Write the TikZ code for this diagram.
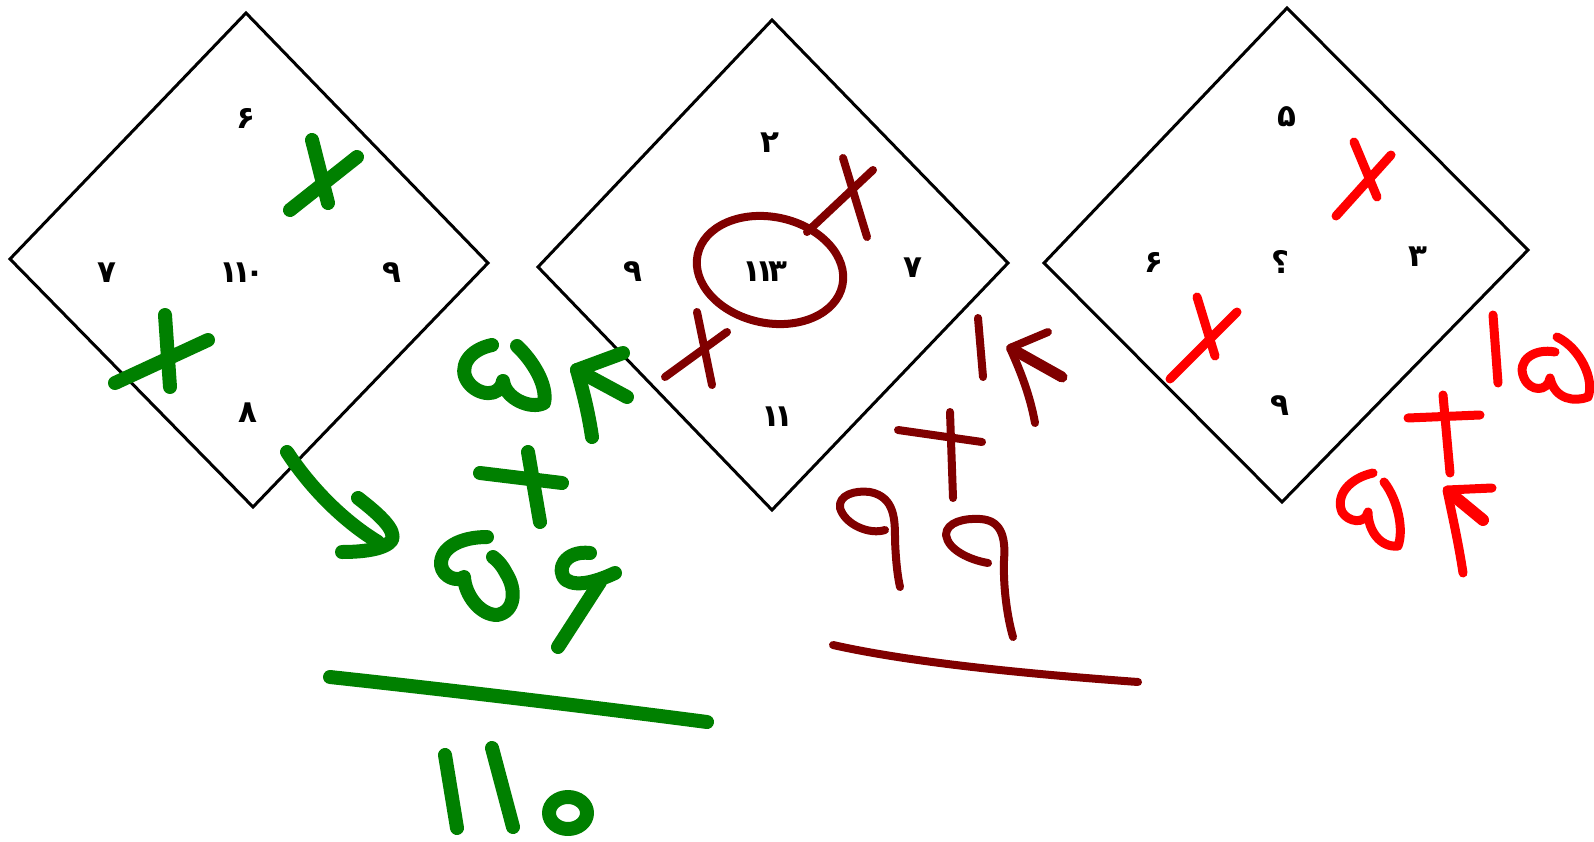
\documentclass[tikz,border=0pt]{standalone}
\usepackage{fontspec}
\newfontfamily\fa[Script=Arabic]{DejaVu Sans}
\definecolor{pgreen}{RGB}{0,128,0}
\definecolor{pdark}{RGB}{128,0,0}
\definecolor{pred}{RGB}{255,0,0}
\tikzset{
  box/.style={draw=black, line width=3pt, line join=miter},
  dig/.style={font={\fa\bfseries\fontsize{31}{33}\selectfont}, inner sep=0pt, text=black},
  gpen/.style={draw=pgreen, line width=14pt, line cap=round, line join=round},
  dpen/.style={draw=pdark, line width=8pt, line cap=round, line join=round},
  rpen/.style={draw=pred, line width=9pt, line cap=round, line join=round}
}
\begin{document}
\begin{tikzpicture}[x=1pt,y=-1pt]
\useasboundingbox[fill=white] (0,0) rectangle (1594,842);
% diamond vertices
\coordinate (aT) at (246,13);  \coordinate (aR) at (488,263);
\coordinate (aB) at (253,507); \coordinate (aL) at (10,259);
\coordinate (bT) at (772,20);  \coordinate (bR) at (1008,263);
\coordinate (bB) at (772,510); \coordinate (bL) at (538,267);
\coordinate (cT) at (1287,8);  \coordinate (cR) at (1528,250);
\coordinate (cB) at (1282,502); \coordinate (cL) at (1044,263);
\draw[box] (aT) -- (aR) -- (aB) -- (aL) -- cycle;
\draw[box] (bT) -- (bR) -- (bB) -- (bL) -- cycle;
\draw[box] (cT) -- (cR) -- (cB) -- (cL) -- cycle;
% texts diamond 1
\node[dig] (a1) at (246,118) {۶};
\node[dig] (a2) at (107,273) {۷};
\node[dig] (a3) at (242,273) {۱\kern-6pt۱\kern-5pt۰};
\node[dig] (a4) at (392,273) {۹};
\node[dig] (a5) at (248,413) {۸};
% texts diamond 2
\node[dig] (b1) at (770,143) {۲};
\node[dig] (b2) at (633,272) {۹};
\node[dig] (b3) at (765,272) {۱\kern-6pt۱\kern-5pt۳};
\node[dig] (b4) at (913,268) {۷};
\node[dig] (b5) at (777,417) {۱\kern-6pt۱};
% texts diamond 3
\node[dig] (c1) at (1287,117) {۵};
\node[dig] (c2) at (1154,262) {۶};
\node[dig] (c3) at (1280,262) {؟};
\node[dig] (c4) at (1418,257) {۳};
\node[dig] (c5) at (1280,406) {۹};
% ---------- green annotations ----------
\draw[gpen] (312,140) -- (328,203);
\draw[gpen] (290,210) -- (357,157);
\draw[gpen] (165,315) -- (170,387);
\draw[gpen] (115,383) -- (208,340);
% arrow
\draw[gpen] (287,452) .. controls (312,490) and (345,522) .. (378,542);
\draw[gpen] (358,498) .. controls (380,515) and (396,530) .. (392,540) .. controls (385,550) and (360,552) .. (342,552);
% 54
\draw[gpen] (492,345) .. controls (468,350) and (458,368) .. (468,382) .. controls (478,396) and (500,398) .. (503,381) .. controls (505,398) and (530,410) .. (544,403) .. controls (548,385) and (532,360) .. (517,346);
\draw[gpen] (592,437) .. controls (588,410) and (582,388) .. (577,370) -- (623,353);
\draw[gpen] (577,370) -- (627,397);
% plus
\draw[gpen] (480,473) -- (562,483);
\draw[gpen] (528,452) -- (540,522);
% 56
\draw[gpen] (487,537) .. controls (460,537) and (440,548) .. (441,565) .. controls (443,578) and (458,582) .. (464,577) .. controls (465,595) and (480,615) .. (497,615) .. controls (515,612) and (517,590) .. (506,573) .. controls (502,565) and (497,560) .. (493,557);
\draw[gpen] (590,553) .. controls (565,550) and (555,570) .. (566,580) .. controls (578,588) and (600,580) .. (615,573);
\draw[gpen] (600,582) -- (558,647);
% underline and 110
\draw[gpen] (330,677) .. controls (450,690) and (600,708) .. (707,722);
\draw[gpen] (445,755) -- (457,828);
\draw[gpen] (492,748) -- (513,827);
\draw[gpen] (568,813) ellipse [x radius=19, y radius=16];
% ---------- dark red annotations ----------
\draw[dpen] (770,270) ellipse [x radius=74, y radius=53, rotate=-12];
\draw[dpen] (807,232) -- (873,170);
\draw[dpen] (843,158) -- (867,237);
\draw[dpen] (665,377) -- (727,332);
\draw[dpen] (697,312) -- (712,385);
% 14
\draw[dpen] (978,318) -- (983,377);
\draw[dpen] (1035,423) .. controls (1030,395) and (1020,370) .. (1010,348) -- (1048,332);
\draw[dpen, line width=11pt] (1012,349) -- (1062,377);
% plus
\draw[dpen] (898,430) -- (982,442);
\draw[dpen] (950,412) -- (953,498);
% 99
\draw[dpen] (885,530) .. controls (870,535) and (845,525) .. (840,508) .. controls (838,495) and (855,490) .. (870,492) .. controls (895,497) and (895,520) .. (895,540) .. controls (896,565) and (898,578) .. (900,587);
\draw[dpen] (988,563) .. controls (970,560) and (948,550) .. (946,535) .. controls (946,522) and (965,518) .. (980,519) .. controls (1000,520) and (1006,535) .. (1004,560) .. controls (1003,590) and (1008,620) .. (1013,637);
\draw[dpen] (833,645) .. controls (900,660) and (1000,672) .. (1138,682);
% ---------- red annotations ----------
\draw[rpen] (1354,142) -- (1377,197);
\draw[rpen] (1336,216) -- (1391,155);
\draw[rpen] (1197,297) -- (1215,356);
\draw[rpen] (1170,379) -- (1237,312);
% 15
\draw[rpen] (1493,315) -- (1498,383);
\draw[rpen] (1557,337) .. controls (1580,348) and (1595,380) .. (1588,397) .. controls (1575,402) and (1555,400) .. (1550,378) .. controls (1548,392) and (1530,392) .. (1524,378) .. controls (1516,360) and (1535,348) .. (1555,352);
% plus
\draw[rpen] (1408,418) -- (1480,415);
\draw[rpen] (1443,395) -- (1450,473);
% 54
\draw[rpen] (1373,473) .. controls (1350,478) and (1335,495) .. (1342,512) .. controls (1348,522) and (1365,525) .. (1368,512) .. controls (1368,530) and (1380,548) .. (1398,546) .. controls (1404,530) and (1398,500) .. (1384,482);
\draw[rpen] (1463,573) .. controls (1458,540) and (1452,515) .. (1447,490) -- (1492,488);
\draw[rpen, line width=12pt] (1449,492) -- (1483,520);
\end{tikzpicture}
\end{document}
